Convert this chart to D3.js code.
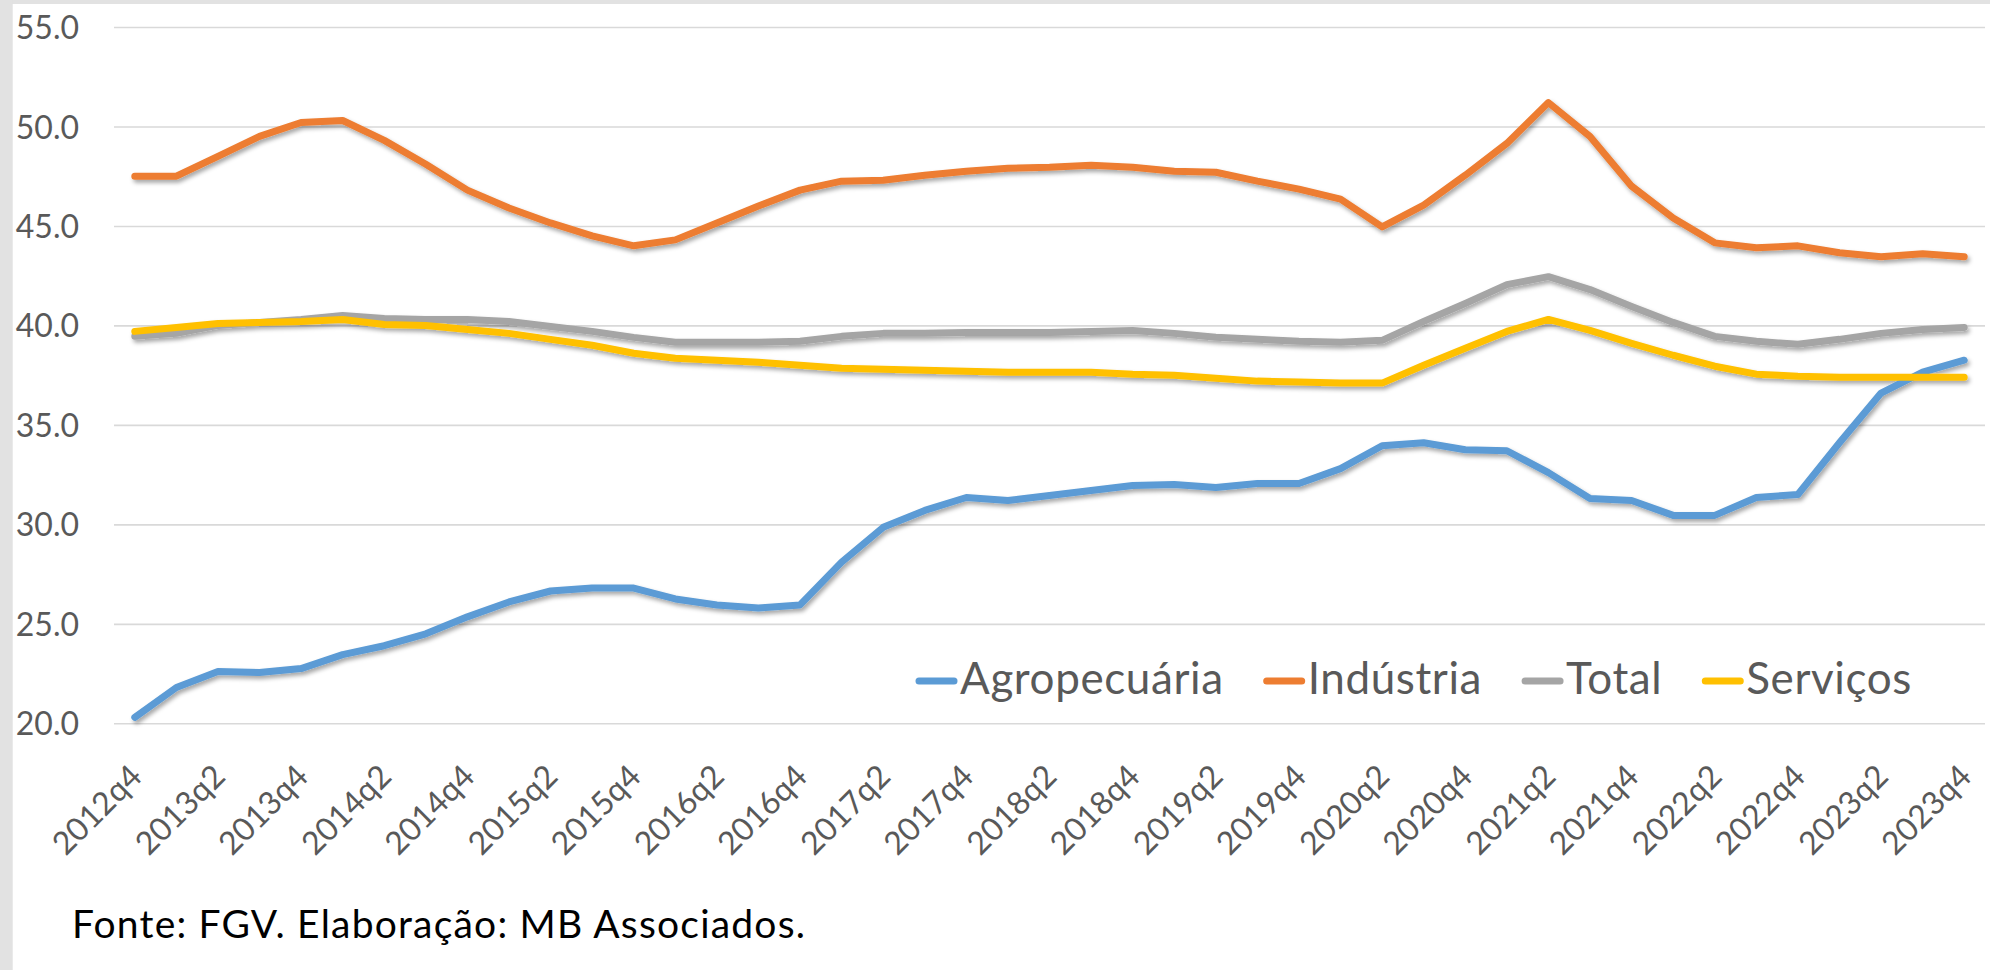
<!DOCTYPE html>
<html>
<head>
<meta charset="utf-8">
<script src="https://cdn.jsdelivr.net/npm/d3@7"></script>
<style>
  html, body { margin: 0; padding: 0; background: #ffffff; }
  svg { display: block; }
  text { font-family: Lato, "Noto Sans", sans-serif; }
</style>
</head>
<body>
<svg id="chart" width="1990" height="970"></svg>
<script>
// ---------- data ----------
const quarters = [
  "2012q4",
  "2013q1","2013q2","2013q3","2013q4",
  "2014q1","2014q2","2014q3","2014q4",
  "2015q1","2015q2","2015q3","2015q4",
  "2016q1","2016q2","2016q3","2016q4",
  "2017q1","2017q2","2017q3","2017q4",
  "2018q1","2018q2","2018q3","2018q4",
  "2019q1","2019q2","2019q3","2019q4",
  "2020q1","2020q2","2020q3","2020q4",
  "2021q1","2021q2","2021q3","2021q4",
  "2022q1","2022q2","2022q3","2022q4",
  "2023q1","2023q2","2023q3","2023q4"
];

const agropecuaria = [
  20.3,
  21.8, 22.6, 22.55, 22.75,
  23.45, 23.9, 24.5, 25.35,
  26.1, 26.65, 26.8, 26.8,
  26.25, 25.95, 25.8, 25.95,
  28.1, 29.85, 30.7, 31.35,
  31.2, 31.45, 31.7, 31.95,
  32.0, 31.85, 32.05, 32.05,
  32.8, 33.95, 34.1, 33.75,
  33.7, 32.6, 31.3, 31.2,
  30.45, 30.45, 31.35, 31.5,
  34.1, 36.6, 37.65, 38.25
];

const industria = [
  47.5,
  47.5, 48.5, 49.5, 50.2,
  50.3, 49.3, 48.1, 46.8,
  45.9, 45.15, 44.5, 44.0,
  44.3, 45.15, 46.0, 46.8,
  47.25, 47.3, 47.55, 47.75,
  47.9, 47.95, 48.05, 47.95,
  47.75, 47.7, 47.25, 46.85,
  46.35, 44.95, 46.05, 47.55,
  49.15, 51.2, 49.5, 47.0,
  45.4, 44.15, 43.9, 44.0,
  43.65, 43.45, 43.6, 43.45
];

const total = [
  39.45,
  39.6, 40.0, 40.15, 40.3,
  40.5, 40.35, 40.3, 40.3,
  40.2, 39.95, 39.7, 39.4,
  39.15, 39.15, 39.15, 39.2,
  39.45, 39.6, 39.6, 39.65,
  39.65, 39.65, 39.7, 39.75,
  39.6, 39.4, 39.3, 39.2,
  39.15, 39.25, 40.2, 41.1,
  42.05, 42.45, 41.8, 40.95,
  40.15, 39.45, 39.2, 39.05,
  39.3, 39.6, 39.8, 39.9
];

const servicos = [
  39.7,
  39.9, 40.1, 40.15, 40.2,
  40.3, 40.05, 40.0, 39.8,
  39.6, 39.3, 39.0, 38.6,
  38.35, 38.25, 38.15, 38.0,
  37.85, 37.8, 37.75, 37.7,
  37.65, 37.65, 37.65, 37.55,
  37.5, 37.35, 37.2, 37.15,
  37.1, 37.1, 38.0, 38.85,
  39.7, 40.3, 39.75, 39.1,
  38.5, 37.95, 37.55, 37.45,
  37.4, 37.4, 37.4, 37.4
];

const seriesNames = ["Agropecuária", "Indústria", "Total", "Serviços"];
const seriesValues = [agropecuaria, industria, total, servicos];
const seriesColors = ["#5B9BD5", "#ED7D31", "#A5A5A5", "#FFC000"];

const yTicks = [20, 25, 30, 35, 40, 45, 50, 55];
const xTickLabels = quarters.filter((q, i) => i % 2 === 0);
const sourceNote = "Fonte: FGV. Elaboração: MB Associados.";

// ---------- layout ----------
const svg = d3.select("#chart");
const plot = { left: 114, right: 1985, top: 27, bottom: 723.3 };

// frame strips
svg.append("rect").attr("x", 0).attr("y", 0).attr("width", 1990).attr("height", 970).attr("fill", "#ffffff");
svg.append("rect").attr("x", 0).attr("y", 0).attr("width", 1990).attr("height", 4).attr("fill", "#e2e2e2");
svg.append("rect").attr("x", 0).attr("y", 0).attr("width", 12.7).attr("height", 970).attr("fill", "#e2e2e2");

const x = d3.scaleBand().domain(quarters).range([plot.left, plot.right]).paddingInner(0).paddingOuter(0);
const y = d3.scaleLinear().domain([20, 55]).range([plot.bottom, plot.top]);
const cx = q => x(q) + x.bandwidth() / 2;

// shadow filter
const defs = svg.append("defs");
const f = defs.append("filter").attr("id", "shadow").attr("x", "-5%").attr("y", "-20%").attr("width", "110%").attr("height", "140%");
f.append("feDropShadow").attr("dx", 2).attr("dy", 3).attr("stdDeviation", 2)
  .attr("flood-color", "#000").attr("flood-opacity", 0.35);

// y axis with gridlines
const yAxis = d3.axisLeft(y)
  .tickValues(yTicks)
  .tickFormat(d3.format(".1f"))
  .tickSize(-(plot.right - plot.left))
  .tickPadding(35);

const gy = svg.append("g").attr("transform", `translate(${plot.left},0)`).call(yAxis);
gy.select(".domain").remove();
gy.selectAll(".tick line").attr("stroke", "#d9d9d9").attr("stroke-width", 1.6);
gy.selectAll(".tick text")
  .attr("fill", "#595959")
  .style("font-size", "32px")
  .attr("dy", "0.36em");

// x axis
const xAxis = d3.axisBottom(x).tickValues(xTickLabels).tickSize(0).tickPadding(0);
const gx = svg.append("g").attr("transform", `translate(0,${plot.bottom})`).call(xAxis);
gx.select(".domain").remove();
gx.selectAll(".tick text")
  .attr("fill", "#595959")
  .style("font-size", "32px")
  .attr("text-anchor", "end")
  .attr("y", 0)
  .attr("dy", "0.36em")
  .attr("transform", "translate(1,47) rotate(-45)");

// lines
const line = d3.line()
  .x((d, i) => cx(quarters[i]))
  .y(d => y(d));

const gLines = svg.append("g").attr("filter", "url(#shadow)");
seriesValues.forEach((vals, k) => {
  gLines.append("path")
    .datum(vals)
    .attr("d", line)
    .attr("fill", "none")
    .attr("stroke", seriesColors[k])
    .attr("stroke-width", 7)
    .attr("stroke-linejoin", "round")
    .attr("stroke-linecap", "round");
});

// legend
const legend = svg.append("g");
let lx = 916;
const ly = 681;
seriesNames.forEach((name, k) => {
  legend.append("line")
    .attr("x1", lx + 3).attr("x2", lx + 38)
    .attr("y1", ly).attr("y2", ly)
    .attr("stroke", seriesColors[k])
    .attr("stroke-width", 7)
    .attr("stroke-linecap", "round");
  const t = legend.append("text")
    .attr("x", lx + 44)
    .attr("y", 694)
    .attr("fill", "#595959")
    .style("font-size", "44px")
    .style("letter-spacing", "0.6px")
    .text(name);
  const w = t.node().getComputedTextLength();
  lx = lx + 44 + w + 40;
});

// source note
svg.append("text")
  .attr("x", 72)
  .attr("y", 938)
  .attr("fill", "#000000")
  .style("font-size", "39px")
  .style("letter-spacing", "1.2px")
  .text(sourceNote);
</script>
</body>
</html>
